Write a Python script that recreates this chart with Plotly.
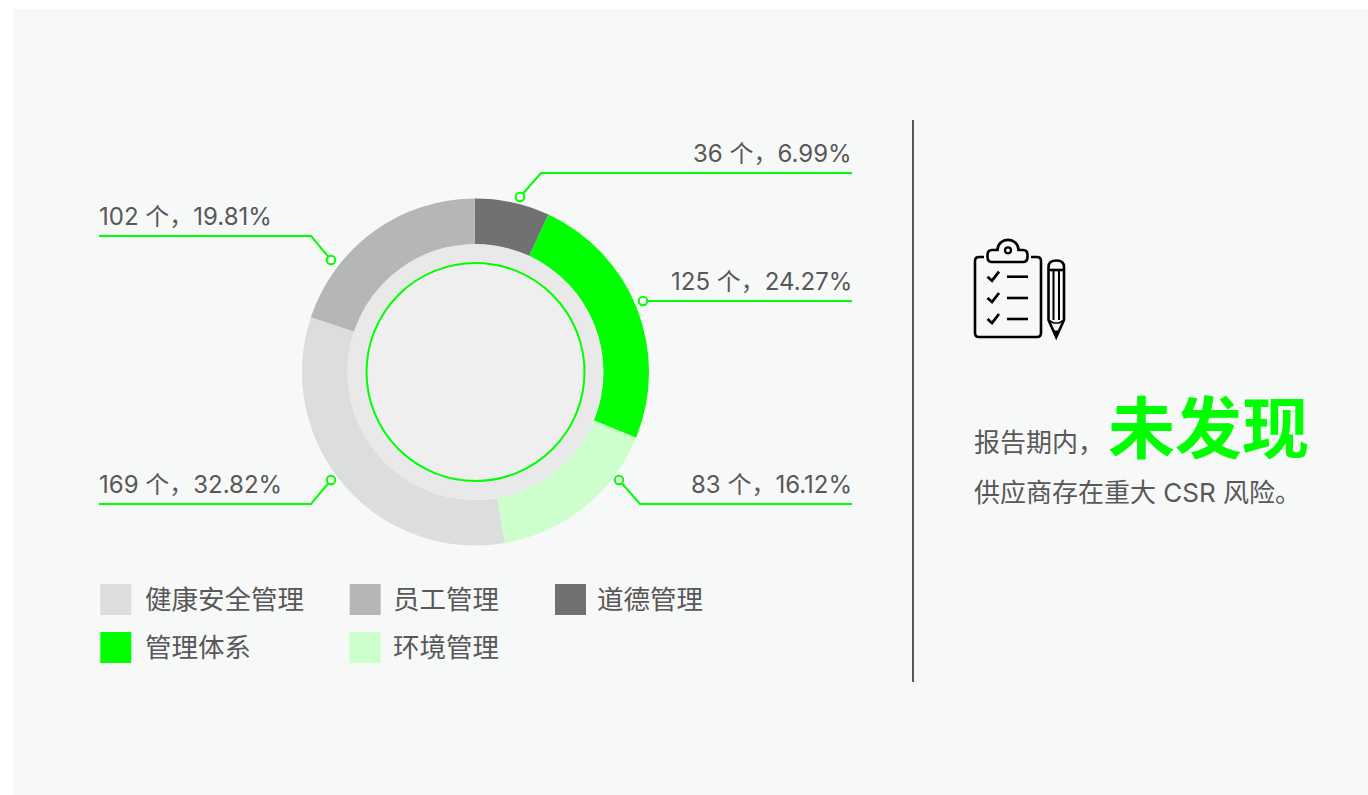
import plotly.graph_objects as go

categories = ["道德管理", "管理体系", "环境管理", "健康安全管理", "员工管理"]
counts = [36, 125, 83, 169, 102]
percents = ["6.99", "24.27", "16.12", "32.82", "19.81"]
colors = ["#727171", "#00ff00", "#ccffcc", "#dcdddd", "#b5b6b6"]
legend_order = ["健康安全管理", "员工管理", "道德管理", "管理体系", "环境管理"]

W, H = 1368, 795
GREEN = "#00ff00"
PANEL = "#f7f9f8"
TEXT = "#595757"
INK = "#000000"
FONT = "Inter, 'Noto Sans CJK SC', sans-serif"
CJK = "'Noto Sans CJK SC', sans-serif"

CX, CY, R, R_IN = 475.5, 372, 173.5, 128

callouts = {
    "道德管理": [(520, 197), (541, 173), (852, 173), "right"],
    "管理体系": [(643, 301), (643, 301), (852, 301), "right"],
    "环境管理": [(619, 480), (640, 504), (852, 504), "right"],
    "健康安全管理": [(331, 480), (311, 504), (99, 504), "left"],
    "员工管理": [(331, 260), (311, 236), (99, 236), "left"],
}
legend_pos = {
    "健康安全管理": (100.3, 584, 145), "员工管理": (349.7, 584, 393), "道德管理": (555, 584, 597),
    "管理体系": (100.3, 632, 145), "环境管理": (349.7, 632, 393),
}

fig = go.Figure()
shapes, ann = [], []


def circle(cx, cy, r, fill, line=None, lw=0, layer="below"):
    shapes.append(dict(type="circle", xref="x", yref="y", x0=cx - r, x1=cx + r, y0=cy - r, y1=cy + r,
                       fillcolor=fill, line=dict(color=line or fill, width=lw), layer=layer))


def path(d, color=INK, lw=2.6, fill="rgba(0,0,0,0)"):
    shapes.append(dict(type="path", xref="x", yref="y", path=d, fillcolor=fill,
                       line=dict(color=color, width=lw), layer="above"))


def text(x, y, s, size, color=TEXT, anchor="left", family=FONT):
    ann.append(dict(x=x, y=y, xref="x", yref="y", text=s, showarrow=False, xanchor=anchor, yanchor="middle",
                    font=dict(size=size, color=color, family=family), borderpad=0, borderwidth=0))


shapes.append(dict(type="rect", xref="x", yref="y", x0=13, x1=W, y0=9, y1=H, fillcolor=PANEL,
                   line=dict(width=0), layer="below"))
circle(CX, CY, R_IN, "#e9e9e9")
circle(CX, CY, 109, "#efefef", GREEN, 2)

fig.add_trace(go.Pie(
    labels=categories, values=counts, sort=False, direction="clockwise", rotation=-0.3,
    hole=R_IN / R, textinfo="none", hoverinfo="skip", showlegend=False,
    marker=dict(colors=colors, line=dict(width=0)),
    domain=dict(x=[(CX - R) / W, (CX + R) / W], y=[1 - (CY + R) / H, 1 - (CY - R) / H]),
))

for name, n, p in zip(categories, counts, percents):
    dot, elbow, end, side = callouts[name]
    fig.add_trace(go.Scatter(x=[dot[0], elbow[0], end[0]], y=[dot[1], elbow[1], end[1]], mode="lines",
                             line=dict(color=GREEN, width=2), hoverinfo="skip", showlegend=False))
    fig.add_trace(go.Scatter(x=[dot[0]], y=[dot[1]], mode="markers", hoverinfo="skip", showlegend=False,
                             marker=dict(size=8.5, color=PANEL, line=dict(color=GREEN, width=2))))
    text(end[0], end[1] - 19.5, f"{n} 个，{p}%", 24, anchor=side)

for name in legend_order:
    x, y, tx = legend_pos[name]
    c = colors[categories.index(name)]
    shapes.append(dict(type="rect", xref="x", yref="y", x0=x, x1=x + 31, y0=y, y1=y + 31, fillcolor=c,
                       line=dict(width=0), layer="below"))
    text(tx, y + 14.5, name, 26.5)

shapes.append(dict(type="line", xref="x", yref="y", x0=913, x1=913, y0=120, y1=682,
                   line=dict(color="#222222", width=1.5), layer="below"))

text(974, 442, "报告期内，", 26)
text(1108, 423, "<b>未发现</b>", 67, GREEN, family=CJK)
text(974, 492, "供应商存在重大 CSR 风险。", 26)

# clipboard icon
path("M 984 257 L 979 257 Q 975 257 975 261 L 975 333 Q 975 337 979 337 L 1037 337 Q 1041 337 1041 333 "
     "L 1041 261 Q 1041 257 1037 257 L 1031 257")
path("M 997.5 250 C 997.5 236.5 1018.5 236.5 1018.5 250 L 1023 250 Q 1027.5 250 1027.5 255 L 1027.5 257 "
     "Q 1027.5 262 1023 262 L 992 262 Q 987.5 262 987.5 257 L 987.5 255 Q 987.5 250 992 250 Z")
circle(1008, 250.3, 3, "rgba(0,0,0,0)", INK, 2.2, layer="above")
for y in (276.7, 298, 319):
    path(f"M 987.5 {y} L 992 {y + 4} L 999 {y - 5}", lw=2.8)
    path(f"M 1007 {y} L 1028 {y}")
# pencil
path("M 1048.5 267 Q 1048.5 260.5 1056.5 260.5 Q 1064 260.5 1064 267 L 1064 320 L 1056.2 337 L 1048.5 320 Z")
path("M 1048.5 270 L 1064 270")
path("M 1053.5 270 L 1053.5 320 M 1059 270 L 1059 320", lw=2)
path("M 1048.5 320 L 1053.5 323 L 1059 323 L 1064 320", lw=1.6)
path("M 1053.5 331 L 1059 331 L 1056.2 337 Z", fill=INK, lw=1)

fig.update_layout(
    width=W, height=H, margin=dict(l=0, r=0, t=0, b=0), autosize=False,
    paper_bgcolor="#ffffff", plot_bgcolor="rgba(0,0,0,0)", showlegend=False,
    xaxis=dict(range=[0, W], visible=False, fixedrange=True),
    yaxis=dict(range=[H, 0], visible=False, fixedrange=True),
    shapes=shapes, annotations=ann,
)
fig.write_html("out.html", config=dict(displayModeBar=False),
               post_script="document.body.style.margin='0';")
